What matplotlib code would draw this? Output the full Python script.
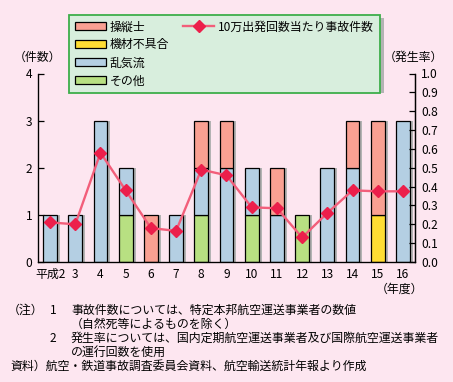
import matplotlib
matplotlib.use("Agg")
import matplotlib.pyplot as plt
from matplotlib.patches import Patch, Rectangle
from matplotlib.lines import Line2D
import numpy as np

plt.rcParams['font.family'] = ['Noto Sans CJK JP', 'DejaVu Sans']

years = ["平成2", "3", "4", "5", "6", "7", "8", "9", "10", "11", "12", "13", "14", "15", "16"]
other = [0, 0, 0, 1, 0, 0, 1, 0, 1, 0, 1, 0, 0, 0, 0]        # その他
equipment = [0, 0, 0, 0, 0, 0, 0, 0, 0, 0, 0, 0, 0, 1, 0]    # 機材不具合
turbulence = [1, 1, 3, 1, 0, 1, 1, 2, 1, 1, 0, 2, 2, 0, 3]   # 乱気流
pilot = [0, 0, 0, 0, 1, 0, 1, 1, 0, 1, 0, 0, 1, 2, 0]        # 操縦士
rate = [0.21, 0.20, 0.58, 0.38, 0.18, 0.165, 0.49, 0.46, 0.29, 0.285, 0.13, 0.26, 0.38, 0.375, 0.375]

series_names = ["その他", "機材不具合", "乱気流", "操縦士"]
line_name = "10万出発回数当たり事故件数"

BG = '#FDE6F0'
colors = {"操縦士": '#F9A092', "機材不具合": '#FFDD33', "乱気流": '#B4CFE3', "その他": '#B8E082'}
LINE_C = '#F25E7A'
MARK_C = '#EC1F4B'

W, H = 453, 382
fig = plt.figure(figsize=(W / 100, H / 100), dpi=100, facecolor=BG)

def fx(px):
    return px / W

def fy(py):
    return 1 - py / H

ax = fig.add_axes([fx(38), fy(262), fx(415) - fx(38), fy(73.5) - fy(262)])
ax.set_facecolor('none')

x = np.arange(len(years))
bw = 0.55
data = [other, equipment, turbulence, pilot]
totals = np.sum(np.array(data), axis=0)

ax.bar(x + 0.12, totals, bw, color='#B3B3B3', linewidth=0, zorder=1)
bottom = np.zeros(len(years))
for name, vals in zip(series_names, data):
    vals = np.array(vals, dtype=float)
    mask = vals > 0
    ax.bar(x[mask], vals[mask], bw, bottom=bottom[mask], color=colors[name],
           edgecolor='black', linewidth=0.9, zorder=2)
    bottom += vals

ax.set_xlim(-0.48, len(years) - 0.52)
ax.set_ylim(0, 4)
ax.set_yticks([0, 1, 2, 3, 4])
ax.set_xticks(x)
ax.set_xticklabels(years)
ax.tick_params(axis='x', length=0, pad=4, labelsize=8.6)
ax.tick_params(axis='y', direction='in', length=4, width=0.9, pad=4, labelsize=8.6)
ax.spines['top'].set_visible(False)
for s in ['left', 'right', 'bottom']:
    ax.spines[s].set_linewidth(0.9)

ax2 = ax.twinx()
ax2.set_ylim(0, 1.0)
ax2.set_yticks(np.round(np.arange(0, 1.01, 0.1), 1))
ax2.set_yticklabels([f"{v:.1f}" for v in np.arange(0, 1.01, 0.1)])
ax2.tick_params(axis='y', direction='in', length=4.5, width=0.9, pad=4.5, labelsize=8.6)
ax2.spines['top'].set_visible(False)
ax2.spines['right'].set_linewidth(0.9)
ax2.plot(x, rate, color=LINE_C, linewidth=1.7, marker='D', markersize=6.3,
         markerfacecolor=MARK_C, markeredgecolor=MARK_C, zorder=5)

# Legend
labels = ["操縦士", "機材不具合", "乱気流", "その他"]
handles = [Patch(facecolor=colors[n], edgecolor='black', linewidth=0.9) for n in labels]
handles.append(Line2D([], [], color=LINE_C, linewidth=1.7, marker='D', markersize=6.3,
                      markerfacecolor=MARK_C, markeredgecolor=MARK_C))
labels = labels + [line_name]
for _ in range(3):
    handles.append(Patch(visible=False))
    labels.append("")

# legend shadow
fig.patches.append(Rectangle((fx(73), fy(93)), fx(380) - fx(69), fy(14.7) - fy(89.3),
                             transform=fig.transFigure, facecolor='#B3B3B3', edgecolor='none', zorder=0))
leg = fig.legend(handles, labels, ncol=2, loc='upper left',
                 bbox_to_anchor=(fx(69), fy(14.7), fx(380) - fx(69), 0), bbox_transform=fig.transFigure,
                 mode='expand', borderaxespad=0, fontsize=8.6, frameon=True, fancybox=False,
                 facecolor='#D8EEDD', edgecolor='#3DAE4A', framealpha=1,
                 handlelength=2.6, handleheight=0.67, handletextpad=0.35,
                 labelspacing=0.42, columnspacing=0.35, borderpad=0.48)
leg.get_frame().set_linewidth(1.3)
leg.set_zorder(10)

fs = 8.6
fig.text(fx(37), fy(57), "（件数）", ha='center', va='center', fontsize=fs)
fig.text(fx(413), fy(57), "（発生率）", ha='center', va='center', fontsize=fs)
fig.text(fx(399), fy(289), "（年度）", ha='center', va='center', fontsize=fs)

notes = [
    (8, 310, "（注）"),
    (50, 310, "1"),
    (71, 310, "事故件数については、特定本邦航空運送事業者の数値"),
    (71, 324, "（自然死等によるものを除く）"),
    (50, 338, "2"),
    (71, 338, "発生率については、国内定期航空運送事業者及び国際航空運送事業者"),
    (71, 352, "の運行回数を使用"),
    (10, 366, "資料）航空・鉄道事故調査委員会資料、航空輸送統計年報より作成"),
]
for px, py, t in notes:
    fig.text(fx(px), fy(py), t, ha='left', va='center', fontsize=fs)

fig.savefig("out.png", dpi=100, facecolor=BG)
